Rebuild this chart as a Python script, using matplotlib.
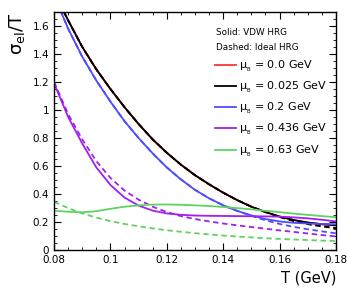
import numpy as np
import matplotlib
matplotlib.use("Agg")
import matplotlib.pyplot as plt
from matplotlib.ticker import MultipleLocator, FormatStrFormatter
from matplotlib.lines import Line2D

# temperatures (GeV) at which the curves were read
T_hi = [0.082, 0.085, 0.09, 0.095, 0.10, 0.105, 0.11, 0.115, 0.12, 0.125, 0.13,
        0.135, 0.14, 0.145, 0.15, 0.155, 0.16, 0.165, 0.17, 0.175, 0.18]
T = [0.08, 0.085, 0.09, 0.095, 0.10, 0.105, 0.11, 0.115, 0.12, 0.125, 0.13,
     0.135, 0.14, 0.145, 0.15, 0.155, 0.16, 0.165, 0.17, 0.175, 0.18]

# mu_B = 0.0 and 0.025 GeV (on top of each other)
black_vdw = [1.76, 1.64, 1.45, 1.29, 1.15, 1.02, 0.90, 0.79, 0.695, 0.61, 0.535,
             0.47, 0.41, 0.357, 0.31, 0.272, 0.24, 0.215, 0.197, 0.185, 0.177]
black_id = [1.76, 1.64, 1.45, 1.29, 1.15, 1.02, 0.90, 0.79, 0.695, 0.61, 0.535,
            0.47, 0.41, 0.357, 0.31, 0.272, 0.237, 0.208, 0.186, 0.17, 0.157]
red_vdw = black_vdw
red_id = black_id

# mu_B = 0.2 GeV
T_blue = [0.081, 0.085, 0.09, 0.095, 0.10, 0.105, 0.11, 0.115, 0.12, 0.125, 0.13,
          0.135, 0.14, 0.145, 0.15, 0.155, 0.16, 0.165, 0.17, 0.175, 0.18]
blue_vdw = [1.77, 1.58, 1.38, 1.21, 1.06, 0.92, 0.80, 0.69, 0.59, 0.505, 0.43,
            0.37, 0.32, 0.28, 0.248, 0.222, 0.205, 0.195, 0.19, 0.187, 0.185]
blue_id = [1.77, 1.58, 1.38, 1.21, 1.06, 0.92, 0.80, 0.69, 0.59, 0.505, 0.43,
           0.37, 0.32, 0.28, 0.245, 0.213, 0.187, 0.166, 0.149, 0.134, 0.12]

# mu_B = 0.436 GeV
purple_vdw = [1.19, 0.95, 0.76, 0.59, 0.465, 0.375, 0.318, 0.282, 0.262, 0.252, 0.247,
              0.245, 0.244, 0.243, 0.242, 0.241, 0.239, 0.234, 0.227, 0.217, 0.205]
purple_id = [1.2, 0.97, 0.79, 0.635, 0.515, 0.425, 0.36, 0.31, 0.272, 0.243, 0.222,
             0.205, 0.19, 0.177, 0.165, 0.153, 0.141, 0.13, 0.119, 0.108, 0.098]

# mu_B = 0.63 GeV
green_vdw = [0.282, 0.274, 0.27, 0.278, 0.295, 0.31, 0.32, 0.325, 0.326, 0.324, 0.32,
             0.315, 0.308, 0.3, 0.291, 0.281, 0.271, 0.261, 0.252, 0.243, 0.235]
green_id = [0.345, 0.30, 0.262, 0.232, 0.207, 0.187, 0.17, 0.155, 0.142, 0.131, 0.121,
            0.112, 0.104, 0.097, 0.091, 0.085, 0.08, 0.076, 0.072, 0.068, 0.065]

labels = ["0.0", "0.025", "0.2", "0.436", "0.63"]
colors = ["#ff3333", "#000000", "#4d4dff", "#a020f0", "#5fd35f"]

fig = plt.figure(figsize=(3.47, 3.01), dpi=100)
ax = fig.add_axes([0.156, 0.169, 0.812, 0.791])

series = [
    (T_hi, red_vdw, red_id),
    (T_hi, black_vdw, black_id),
    (T_blue, blue_vdw, blue_id),
    (T, purple_vdw, purple_id),
    (T, green_vdw, green_id),
]
lw = 1.3
for (tt, vdw, ideal), c in zip(series, colors):
    ax.plot(tt, ideal, color=c, lw=lw, ls=(0, (3, 2)))
    ax.plot(tt, vdw, color=c, lw=lw)

ax.set_xlim(0.08, 0.18)
ax.set_ylim(0, 1.7)
ax.xaxis.set_major_locator(MultipleLocator(0.02))
ax.xaxis.set_minor_locator(MultipleLocator(0.005))
ax.yaxis.set_major_locator(MultipleLocator(0.2))
ax.yaxis.set_minor_locator(MultipleLocator(0.05))
ax.xaxis.set_major_formatter(FormatStrFormatter("%g"))
ax.yaxis.set_major_formatter(FormatStrFormatter("%g"))
ax.tick_params(which="both", direction="in", top=True, right=True, labelsize=7.5)
ax.tick_params(which="major", length=5)
ax.tick_params(which="minor", length=2.5)
for s in ax.spines.values():
    s.set_linewidth(1.0)

ax.set_xlabel("T (GeV)", fontsize=10.5, loc="right")
ax.set_ylabel(r"σ$_{\rm el}$/T", fontsize=13, loc="top")

ax.text(0.575, 0.904, "Solid: VDW HRG", transform=ax.transAxes, fontsize=6.3)
ax.text(0.575, 0.841, "Dashed: Ideal HRG", transform=ax.transAxes, fontsize=6.3)

handles = [Line2D([], [], color=c, lw=lw) for c in colors]
texts = [r"μ$_{_{\rm B}}$ = %s GeV" % l for l in labels]
leg = ax.legend(handles, texts, loc="upper left", bbox_to_anchor=(0.555, 0.822),
                frameon=False, fontsize=8, handlelength=1.9, handletextpad=0.3,
                labelspacing=0.55, borderaxespad=0.0)

fig.savefig("out.png", dpi=100)
